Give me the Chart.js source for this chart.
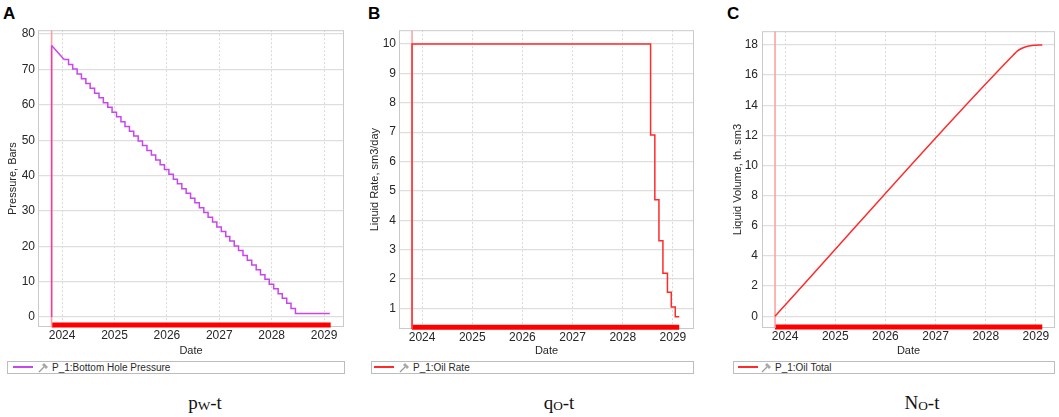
<!DOCTYPE html>
<html lang="en">
<head>
<meta charset="UTF-8">
<title>P_1: Bottom Hole Pressure, Oil Rate, Oil Total</title>
<script src="https://cdn.jsdelivr.net/npm/chart.js"></script>
<style>
  body {
    margin: 0;
    width: 1059px;
    height: 417px;
    background: #fff;
    position: relative;
    overflow: hidden;
    font-family: "Liberation Sans", Arial, sans-serif;
  }
  .letter {
    position: absolute;
    top: 5px;
    font: bold 17px/17px "Liberation Sans", Arial, sans-serif;
    color: #000;
  }
  canvas { position: absolute; top: 20px; }
  .legend {
    position: absolute;
    top: 361px;
    height: 13px;
    box-sizing: border-box;
    border: 1px solid #bdbdbd;
    font-size: 10px;
    line-height: 11px;
    color: #2a2a2a;
  }
  .legend .swatch { position: absolute; top: 4px; width: 20px; height: 2px; }
  .legend svg { position: absolute; top: 0; }
  .legend span { position: absolute; top: 0; white-space: nowrap; }
  .caption {
    position: absolute;
    top: 393px;
    font: 19px/19px "Liberation Serif", "Times New Roman", serif;
    color: #111;
    transform: translateX(-50%);
    white-space: nowrap;
  }
  .caption sub { font-size: 70%; vertical-align: -1px; }
</style>
</head>
<body>

<div class="letter" style="left:3px">A</div>
<div class="letter" style="left:368px">B</div>
<div class="letter" style="left:727px">C</div>

<canvas id="chartA" width="342" height="338" style="left:4px"></canvas>
<canvas id="chartB" width="332" height="338" style="left:365px"></canvas>
<canvas id="chartC" width="331" height="338" style="left:728px"></canvas>

<div class="legend" style="left:7px;width:338px">
  <div class="swatch" style="left:5px;background:#c846ee"></div>
  <svg style="left:30px" width="11" height="11"><line x1="1" y1="10" x2="6" y2="5" stroke="#9a9a9a" stroke-width="1.2"/><path d="M4 3 L8 7 L10 5 L6 1 Z" fill="#a8a8a8"/></svg>
  <span style="left:44px">P_1:Bottom Hole Pressure</span>
</div>
<div class="legend" style="left:371px;width:323px">
  <div class="swatch" style="left:2px;background:#ff2a2a"></div>
  <svg style="left:27px" width="11" height="11"><line x1="1" y1="10" x2="6" y2="5" stroke="#9a9a9a" stroke-width="1.2"/><path d="M4 3 L8 7 L10 5 L6 1 Z" fill="#a8a8a8"/></svg>
  <span style="left:41px">P_1:Oil Rate</span>
</div>
<div class="legend" style="left:733px;width:322px">
  <div class="swatch" style="left:4px;background:#ff2a2a"></div>
  <svg style="left:27px" width="11" height="11"><line x1="1" y1="10" x2="6" y2="5" stroke="#9a9a9a" stroke-width="1.2"/><path d="M4 3 L8 7 L10 5 L6 1 Z" fill="#a8a8a8"/></svg>
  <span style="left:41px">P_1:Oil Total</span>
</div>

<div class="caption" style="left:205px">p<sub>W</sub>-t</div>
<div class="caption" style="left:559px">q<sub>O</sub>-t</div>
<div class="caption" style="left:922px">N<sub>O</sub>-t</div>

<script>
  // ---- data ----
  const yearTicks = [2024, 2025, 2026, 2027, 2028, 2029];
  const startDate = '2023-10-20';
  const endDate = '2029-02-16';

  const pressureTicks = [0, 10, 20, 30, 40, 50, 60, 70, 80];
  const rateTicks = [1, 2, 3, 4, 5, 6, 7, 8, 9, 10];
  const totalTicks = [0, 2, 4, 6, 8, 10, 12, 14, 16, 18];

  // opening jump and the short straight decline before the monthly steps
  const pressureRampDates = ['2023-10-20', '2023-10-20', '2024-01-15'];
  const pressureRampValues = [0, 76.8, 72.8];

  // monthly staircase
  const pressureStepDates = [
    '2024-01-15', '2024-02-15', '2024-03-15', '2024-04-15', '2024-05-15', '2024-06-15',
    '2024-07-15', '2024-08-15', '2024-09-15', '2024-10-15', '2024-11-15', '2024-12-15',
    '2025-01-15', '2025-02-15', '2025-03-15', '2025-04-15', '2025-05-15', '2025-06-15',
    '2025-07-15', '2025-08-15', '2025-09-15', '2025-10-15', '2025-11-15', '2025-12-15',
    '2026-01-15', '2026-02-15', '2026-03-15', '2026-04-15', '2026-05-15', '2026-06-15',
    '2026-07-15', '2026-08-15', '2026-09-15', '2026-10-15', '2026-11-15', '2026-12-15',
    '2027-01-15', '2027-02-15', '2027-03-15', '2027-04-15', '2027-05-15', '2027-06-15',
    '2027-07-15', '2027-08-15', '2027-09-15', '2027-10-15', '2027-11-15', '2027-12-15',
    '2028-01-15', '2028-02-15', '2028-03-15', '2028-04-15', '2028-05-15', '2028-06-15',
    '2029-02-10'
  ];
  const pressureStepValues = [
    72.8, 71.4, 70.1, 68.7, 67.4, 66.0, 64.7, 63.3, 62.0, 60.6, 59.3, 57.9,
    56.6, 55.2, 53.9, 52.5, 51.2, 49.8, 48.5, 47.1, 45.8, 44.4, 43.1, 41.7,
    40.4, 39.0, 37.7, 36.3, 35.0, 33.6, 32.3, 30.9, 29.6, 28.2, 26.9, 25.5,
    24.2, 22.8, 21.5, 20.1, 18.8, 17.4, 16.1, 14.7, 13.4, 12.0, 10.7, 9.3,
    8.0, 6.6, 5.3, 3.9, 2.4, 1.0,
    1.0
  ];

  const rateDates = ['2023-10-20', '2023-10-20', '2028-07-22', '2028-08-22', '2028-09-21',
                     '2028-10-20', '2028-11-22', '2028-12-20', '2029-01-18', '2029-02-16'];
  const rateValues = [0, 10, 6.9, 4.7, 3.3, 2.2, 1.55, 1.05, 0.72, 0.72];

  const totalDates = ['2023-10-20', '2028-07-22', '2028-08-22', '2028-09-21', '2028-10-20',
                      '2028-11-22', '2028-12-20', '2029-01-18', '2029-02-16'];
  const totalValues = [0, 17.35, 17.62, 17.78, 17.88, 17.94, 17.97, 17.99, 18.0];

  // ---- helpers ----
  function toYear(s) {
    const [y, m, d] = s.split('-').map(Number);
    const t0 = Date.UTC(y, 0, 1), t1 = Date.UTC(y + 1, 0, 1);
    return y + (Date.UTC(y, m - 1, d) - t0) / (t1 - t0);
  }
  const pts = (dates, values) => dates.map((d, i) => ({ x: toYear(d), y: values[i] }));

  const RED = '#ff2a2a';
  const PURPLE = '#c846ee';
  const PINK = '#f03e9e';   // purple drawn over the red start marker
  const MARKER = '#ff9c9c';

  const frame = {
    id: 'frame',
    beforeDatasetsDraw(chart) {
      const { ctx, chartArea: a } = chart;
      ctx.save();
      ctx.strokeStyle = '#cacaca';
      ctx.lineWidth = 1;
      ctx.strokeRect(a.left + 0.5, a.top + 0.5, a.width - 1, a.height - 1);
      ctx.restore();
    }
  };

  function markerLine(yMin, yMax) {
    return { data: pts([startDate, startDate], [yMin, yMax]), borderColor: MARKER, borderWidth: 1.5 };
  }
  function bottomBar(yBar) {
    return { data: pts([startDate, endDate], [yBar, yBar]), borderColor: '#ff0000',
             borderWidth: 5, borderCapStyle: 'butt', clip: false };
  }

  function buildChart(id, c) {
    new Chart(document.getElementById(id), {
      type: 'line',
      data: { datasets: c.datasets },
      plugins: [frame],
      options: {
        responsive: false,
        animation: false,
        layout: { padding: c.padding },
        plugins: { legend: { display: false }, tooltip: { enabled: false } },
        elements: { point: { radius: 0 }, line: { borderWidth: 1.5, fill: false, tension: 0 } },
        scales: {
          x: {
            type: 'linear', min: c.xMin, max: c.xMax,
            afterBuildTicks: s => { s.ticks = yearTicks.map(v => ({ value: v })); },
            afterFit: s => { s.height = c.xAxisHeight; },
            grid: { color: '#d9d9d9', lineWidth: 1, drawTicks: false },
            border: { display: false, dash: [2, 2] },
            ticks: { padding: 1, color: '#262626', font: { size: 12 }, maxRotation: 0,
                     callback: v => String(v) },
            title: { display: true, text: 'Date', color: '#262626', font: { size: 11 }, padding: 0 }
          },
          y: {
            min: c.yMin, max: c.yMax,
            afterBuildTicks: s => { s.ticks = c.yTicks.map(v => ({ value: v })); },
            afterFit: s => { s.width = c.yAxisWidth; },
            grid: { color: '#dedede', lineWidth: 1.2, drawTicks: false },
            border: { display: false },
            ticks: { padding: c.yTickPad, color: '#262626', font: { size: 12 },
                     callback: v => String(v) },
            title: { display: true, text: c.yTitle, color: '#262626', font: { size: 11 }, padding: 0 }
          }
        }
      }
    });
  }

  // A: bottom hole pressure
  buildChart('chartA', {
    padding: { left: 2, right: 2, top: 5, bottom: 0 },
    xMin: 2023.54, xMax: 2029.38, xAxisHeight: 31,
    yMin: -2.8, yMax: 81.1, yTicks: pressureTicks, yAxisWidth: 32, yTickPad: 3,
    yTitle: 'Pressure, Bars',
    datasets: [
      { data: pts(pressureRampDates, pressureRampValues), borderColor: PURPLE,
        segment: { borderColor: ctx => ctx.p0.parsed.x === ctx.p1.parsed.x ? PINK : undefined } },
      { data: pts(pressureStepDates, pressureStepValues), borderColor: PURPLE, stepped: true },
      markerLine(-2.8, 81.1),
      bottomBar(-2.2)
    ]
  });

  // B: oil rate
  buildChart('chartB', {
    padding: { left: 3, right: 3, top: 5, bottom: 0 },
    xMin: 2023.54, xMax: 2029.42, xAxisHeight: 29,
    yMin: 0.3, yMax: 10.47, yTicks: rateTicks, yAxisWidth: 31, yTickPad: 3,
    yTitle: 'Liquid Rate, sm3/day',
    datasets: [
      { data: pts(rateDates, rateValues), borderColor: RED, stepped: true },
      markerLine(0.3, 10.47),
      bottomBar(0.36)
    ]
  });

  // C: cumulative oil
  buildChart('chartC', {
    padding: { left: 3, right: 4, top: 5, bottom: 0 },
    xMin: 2023.54, xMax: 2029.38, xAxisHeight: 30,
    yMin: -0.78, yMax: 18.91, yTicks: totalTicks, yAxisWidth: 31, yTickPad: 4,
    yTitle: 'Liquid Volume, th. sm3',
    datasets: [
      { data: pts(totalDates, totalValues), borderColor: RED, cubicInterpolationMode: 'monotone' },
      markerLine(-0.78, 18.91),
      bottomBar(-0.71)
    ]
  });
</script>

</body>
</html>
